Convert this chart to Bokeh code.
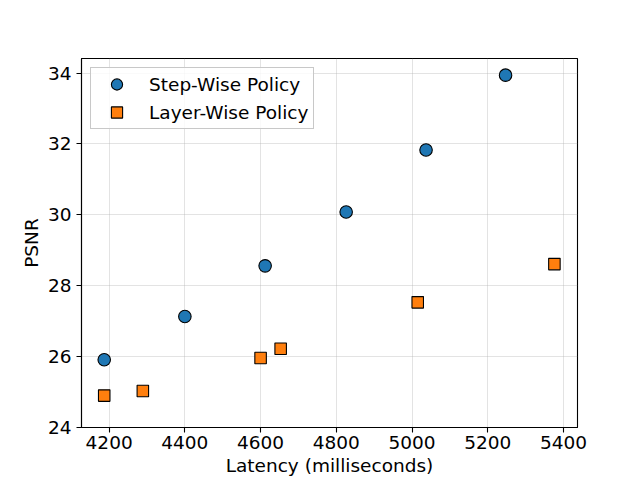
from bokeh.plotting import figure
from bokeh.models import FixedTicker, Legend, LegendItem
from bokeh.embed import file_html
from bokeh.resources import INLINE

step_latency = [4187, 4400, 4612, 4826, 5037, 5247]
step_psnr = [25.91, 27.13, 28.56, 30.08, 31.83, 33.94]
layer_latency = [4187, 4289, 4600, 4653, 5015, 5376]
layer_psnr = [24.90, 25.03, 25.96, 26.22, 27.53, 28.61]
x_ticks = [4200, 4400, 4600, 4800, 5000, 5200, 5400]
y_ticks = [24, 26, 28, 30, 32, 34]

FONT = "DejaVu Sans"
FS = "18.5px"

p = figure(frame_width=496, frame_height=369,
           x_range=(4127, 5437), y_range=(24.0, 34.41),
           output_backend="svg", toolbar_location=None,
           min_border_left=81, min_border_top=58, min_border_right=50, min_border_bottom=40)
p.background_fill_color = "white"
p.border_fill_color = "white"
p.outline_line_color = "black"
p.outline_line_width = 1.1

for ax in (p.xaxis, p.yaxis):
    ax.major_label_text_font = FONT
    ax.major_label_text_font_size = FS
    ax.major_label_text_color = "black"
    ax.axis_label_text_font = FONT
    ax.axis_label_text_font_size = FS
    ax.axis_label_text_font_style = "normal"
    ax.axis_label_text_color = "black"
    ax.minor_tick_line_color = None
    ax.major_tick_in = 0
    ax.major_tick_out = 5
    ax.major_tick_line_color = "black"
    ax.major_tick_line_width = 1.1
    ax.axis_line_color = "black"
    ax.axis_line_width = 1.1

p.xaxis.ticker = FixedTicker(ticks=x_ticks)
p.yaxis.ticker = FixedTicker(ticks=y_ticks)
p.xaxis.axis_label = "Latency (milliseconds)"
p.yaxis.axis_label = "PSNR"
p.xaxis.major_label_standoff = 3
p.yaxis.major_label_standoff = 5
p.xaxis.axis_label_standoff = 3
p.yaxis.axis_label_standoff = 3

p.grid.grid_line_color = "#b0b0b0"
p.grid.grid_line_alpha = 0.35
p.grid.grid_line_width = 1

r1 = p.scatter(step_latency, step_psnr, marker="circle", size=12.5,
               fill_color="#1f77b4", line_color="black", line_width=1.1)
r2 = p.scatter(layer_latency, layer_psnr, marker="square", size=11.5,
               fill_color="#ff7f0e", line_color="black", line_width=1.1)

legend = Legend(items=[LegendItem(label="Step-Wise Policy", renderers=[r1]),
                       LegendItem(label="Layer-Wise Policy", renderers=[r2])],
                location="top_left", margin=9, padding=2, spacing=0,
                glyph_width=47, glyph_height=28, label_height=28,
                label_width=162, label_standoff=9,
                label_text_font=FONT, label_text_font_size=FS,
                label_text_color="black",
                border_line_color="#c8c8c8", border_line_width=1,
                border_line_alpha=1.0,
                background_fill_color="white", background_fill_alpha=0.8)
p.add_layout(legend, "center")

open("out.html", "w").write(file_html(p, INLINE))
